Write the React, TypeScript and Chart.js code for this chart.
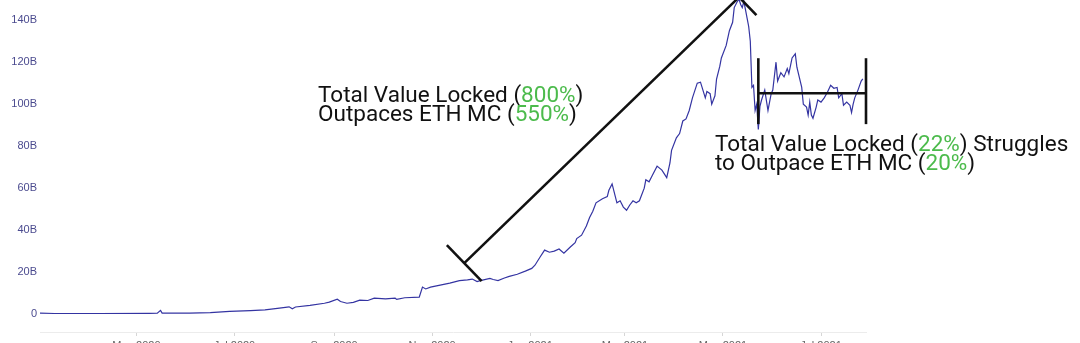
import React, { useEffect, useRef } from "react";
import { Chart, registerables } from "chart.js";

Chart.register(...registerables);

// ---------- data ----------
const dates2020a = ["2020-03-02","2020-03-11","2020-04-08","2020-05-09","2020-05-14","2020-05-16","2020-05-17","2020-06-03","2020-06-16","2020-06-28","2020-07-11","2020-07-20","2020-07-29"];
const tvl2020a = [0.5,0.3,0.3,0.4,0.5,1.8,0.5,0.5,0.7,1.3,1.7,2.0,2.9];
const dates2020b = ["2020-08-04","2020-08-06","2020-08-08","2020-08-17","2020-08-26","2020-08-29","2020-09-03","2020-09-05","2020-09-09","2020-09-13","2020-09-17","2020-09-22","2020-09-26"];
const tvl2020b = [3.5,2.6,3.4,4.2,5.2,5.7,7.1,6.0,5.2,5.6,6.7,6.5,7.6];
const dates2020c = ["2020-10-03","2020-10-09","2020-10-10","2020-10-15","2020-10-24","2020-10-26","2020-10-28","2020-10-31","2020-11-06","2020-11-12","2020-11-18","2020-11-23","2020-11-26","2020-11-29"];
const tvl2020c = [7.3,7.6,7.0,7.8,8.1,12.9,12.0,12.9,13.8,14.8,16.0,16.3,16.7,15.5];
const dates2020d = ["2020-12-01","2020-12-07","2020-12-09","2020-12-12","2020-12-16","2020-12-19","2020-12-24","2020-12-29"];
const tvl2020d = [16.0,17.0,16.5,16.0,17.2,18.0,19.0,20.5];
const datesJan21 = ["2021-01-02","2021-01-04","2021-01-07","2021-01-10","2021-01-13","2021-01-16","2021-01-19","2021-01-22","2021-01-26","2021-01-29","2021-01-30"];
const tvlJan21 = [21.8,23.3,27,30.5,29.5,30.0,31,29,32,34,36];
const datesFeb21 = ["2021-02-02","2021-02-05","2021-02-07","2021-02-09","2021-02-11","2021-02-15","2021-02-18","2021-02-19","2021-02-21","2021-02-24","2021-02-26","2021-02-28"];
const tvlFeb21 = [37.6,42,46,49,53,55,56,59,62,53,54,51];
const datesMar21 = ["2021-03-02","2021-03-04","2021-03-06","2021-03-08","2021-03-10","2021-03-13","2021-03-14","2021-03-16","2021-03-18","2021-03-21","2021-03-24","2021-03-27","2021-03-29","2021-03-30"];
const tvlMar21 = [49.5,52,54,53,54,60,64,63,66,70.5,68.6,65,72,78];
const datesApr21 = ["2021-04-02","2021-04-04","2021-04-06","2021-04-08","2021-04-10","2021-04-12","2021-04-15","2021-04-17","2021-04-18","2021-04-20","2021-04-21","2021-04-23","2021-04-24","2021-04-26","2021-04-27","2021-04-29","2021-04-30"];
const tvlApr21 = [84,86,92,93,97,103,110,110.5,108,103,106,105,100,104,112,118,122];
const datesMay21 = ["2021-05-03","2021-05-05","2021-05-07","2021-05-08","2021-05-10","2021-05-11","2021-05-12","2021-05-13","2021-05-14","2021-05-15","2021-05-16","2021-05-17","2021-05-18","2021-05-19","2021-05-20","2021-05-21","2021-05-22","2021-05-23","2021-05-24","2021-05-25","2021-05-27","2021-05-29","2021-05-31"];
const tvlMay21 = [128,135,139,146,149,150,147.5,146,149,145,141,137,130,108,109,97,100,88,99,102,106.7,97,105];
const datesJun21 = ["2021-06-01","2021-06-03","2021-06-04","2021-06-06","2021-06-08","2021-06-10","2021-06-11","2021-06-13","2021-06-15","2021-06-16","2021-06-19","2021-06-20","2021-06-22","2021-06-23","2021-06-24","2021-06-25","2021-06-26","2021-06-28","2021-06-29"];
const tvlJun21 = [106.7,120,111,115,113,117,114.6,122,124,117.6,108,100,98.6,94.8,101,94.8,93.3,98.6,102];
const datesJul21 = ["2021-07-01","2021-07-03","2021-07-05","2021-07-07","2021-07-09","2021-07-11","2021-07-12","2021-07-14","2021-07-15","2021-07-17","2021-07-19","2021-07-20","2021-07-21","2021-07-22","2021-07-24","2021-07-26","2021-07-27"];
const tvlJul21 = [101,103,105.7,109,107.6,108,103,105,99.5,101,99.5,96,100,103,106.7,111,112];

const xMinDate = "2020-03-02";
const xMaxDate = "2021-07-29";
const xTickDates = ["2020-05-01","2020-07-01","2020-09-01","2020-11-01","2021-01-01","2021-03-01","2021-05-01","2021-07-01"];
const xTickLabels = ["May 2020","Jul 2020","Sep 2020","Nov 2020","Jan 2021","Mar 2021","May 2021","Jul 2021"];
const yMin = -8.5;
const yMax = 152;
const yTickValues = [0,20,40,60,80,100,120,140];
const yTickLabels = ["0","20B","40B","60B","80B","100B","120B","140B"];

// annotations (data space)
const arrowFrom = { date: "2020-11-21", value: 24.3 };
const arrowTo = { date: "2021-05-11", value: 151 };
const bracketLeft = "2021-05-23";
const bracketRight = "2021-07-29";
const bracketMid = 105.2;
const bracketTop = 121.9;
const bracketBottom = 90.5;
const note1Pos = { date: "2020-08-22", value: 101 };
const note1Lines = [
  [["Total Value Locked (", false], ["800%", true], [")", false]],
  [["Outpaces ETH MC (", false], ["550%", true], [")", false]],
];
const note2Pos = { date: "2021-04-26", value: 77.6 };
const note2Lines = [
  [["Total Value Locked (", false], ["22%", true], [") Struggles", false]],
  [["to Outpace ETH MC (", false], ["20%", true], [")", false]],
];

const allDates = [...dates2020a, ...dates2020b, ...dates2020c, ...dates2020d, ...datesJan21, ...datesFeb21, ...datesMar21, ...datesApr21, ...datesMay21, ...datesJun21, ...datesJul21];
const allTvl = [...tvl2020a, ...tvl2020b, ...tvl2020c, ...tvl2020d, ...tvlJan21, ...tvlFeb21, ...tvlMar21, ...tvlApr21, ...tvlMay21, ...tvlJun21, ...tvlJul21];

const X0 = Date.UTC(2020, 2, 2);
function dayOf(s: string): number {
  const [y, m, d] = s.split("-").map(Number);
  return (Date.UTC(y, m - 1, d) - X0) / 86400000;
}

const annotationPlugin = {
  id: "annot",
  afterDatasetsDraw(chart: any) {
    const { ctx } = chart;
    const xs = chart.scales.x;
    const ys = chart.scales.y;
    const px = (d: string) => xs.getPixelForValue(dayOf(d));
    const py = (v: number) => ys.getPixelForValue(v);
    ctx.save();
    ctx.strokeStyle = "#111111";
    ctx.lineWidth = 2.6;
    ctx.lineCap = "butt";
    const seg = (a: number, b: number, c: number, d: number) => {
      ctx.beginPath();
      ctx.moveTo(a, b);
      ctx.lineTo(c, d);
      ctx.stroke();
    };
    // arrow with end caps
    const x1 = px(arrowFrom.date), y1 = py(arrowFrom.value);
    const x2 = px(arrowTo.date), y2 = py(arrowTo.value);
    const len = Math.hypot(x2 - x1, y2 - y1);
    const nx = -(y2 - y1) / len, ny = (x2 - x1) / len;
    const cap = 25;
    seg(x1, y1, x2, y2);
    seg(x1 - nx * cap, y1 - ny * cap, x1 + nx * cap, y1 + ny * cap);
    seg(x2 - nx * cap, y2 - ny * cap, x2 + nx * cap, y2 + ny * cap);
    // bracket
    const bl = px(bracketLeft), br = px(bracketRight);
    seg(bl, py(bracketMid), br, py(bracketMid));
    seg(bl, py(bracketTop), bl, py(bracketBottom));
    seg(br, py(bracketTop), br, py(bracketBottom));
    // notes
    ctx.font = "22.5px Roboto";
    ctx.textBaseline = "alphabetic";
    ctx.textAlign = "left";
    const drawNote = (pos: any, lines: any[]) => {
      let yy = py(pos.value);
      for (const line of lines) {
        let xx = px(pos.date);
        for (const [t, g] of line) {
          ctx.fillStyle = g ? "#4cbb4c" : "#111111";
          ctx.fillText(t, xx, yy);
          xx += ctx.measureText(t).width;
        }
        yy += 18.5;
      }
    };
    drawNote(note1Pos, note1Lines);
    drawNote(note2Pos, note2Lines);
    ctx.restore();
  },
};

export default function App() {
  const ref = useRef<HTMLCanvasElement>(null);
  useEffect(() => {
    if (!ref.current) return;
    const points = allDates.map((d, i) => ({ x: dayOf(d), y: allTvl[i] }));
    const chart = new Chart(ref.current, {
      type: "line",
      data: {
        datasets: [
          {
            data: points,
            borderColor: "#3434a2",
            borderWidth: 1.2,
            pointRadius: 0,
            tension: 0,
            fill: false,
          },
        ],
      },
      options: {
        animation: false,
        responsive: false,
        devicePixelRatio: 1,
        events: [],
        layout: { padding: { left: 0, right: 214, top: 15, bottom: 0 } },
        plugins: { legend: { display: false }, tooltip: { enabled: false }, title: { display: false } },
        scales: {
          x: {
            type: "linear",
            min: dayOf(xMinDate),
            max: dayOf(xMaxDate),
            afterBuildTicks: (s: any) => {
              s.ticks = xTickDates.map((d) => ({ value: dayOf(d) }));
            },
            afterFit: (s: any) => {
              s.height = 28;
            },
            ticks: {
              autoSkip: false,
              maxRotation: 0,
              padding: 3,
              color: "#666666",
              font: { family: "Arial", size: 11 },
              callback: (_v: any, i: number) => xTickLabels[i],
            },
            grid: { display: true, drawOnChartArea: false, drawTicks: true, tickLength: 4, color: "#d6d6d6" },
            border: { display: true, color: "#ececec", width: 1 },
          },
          y: {
            type: "linear",
            min: yMin,
            max: yMax,
            afterBuildTicks: (s: any) => {
              s.ticks = yTickValues.map((v) => ({ value: v }));
            },
            afterFit: (s: any) => {
              s.width = 40;
            },
            ticks: {
              padding: 3,
              color: "#4b4b8f",
              font: { family: "Arial", size: 11 },
              callback: (_v: any, i: number) => yTickLabels[i],
            },
            grid: { display: false, drawTicks: false },
            border: { display: false },
          },
        },
      },
      plugins: [annotationPlugin],
    });
    return () => chart.destroy();
  }, []);
  return (
    <div style={{ position: "fixed", left: 0, top: 0, width: 1080, height: 343, overflow: "hidden", background: "#ffffff" }}>
      <canvas ref={ref} width={1080} height={380} style={{ position: "absolute", left: 0, top: -20, width: 1080, height: 380 }} />
    </div>
  );
}
